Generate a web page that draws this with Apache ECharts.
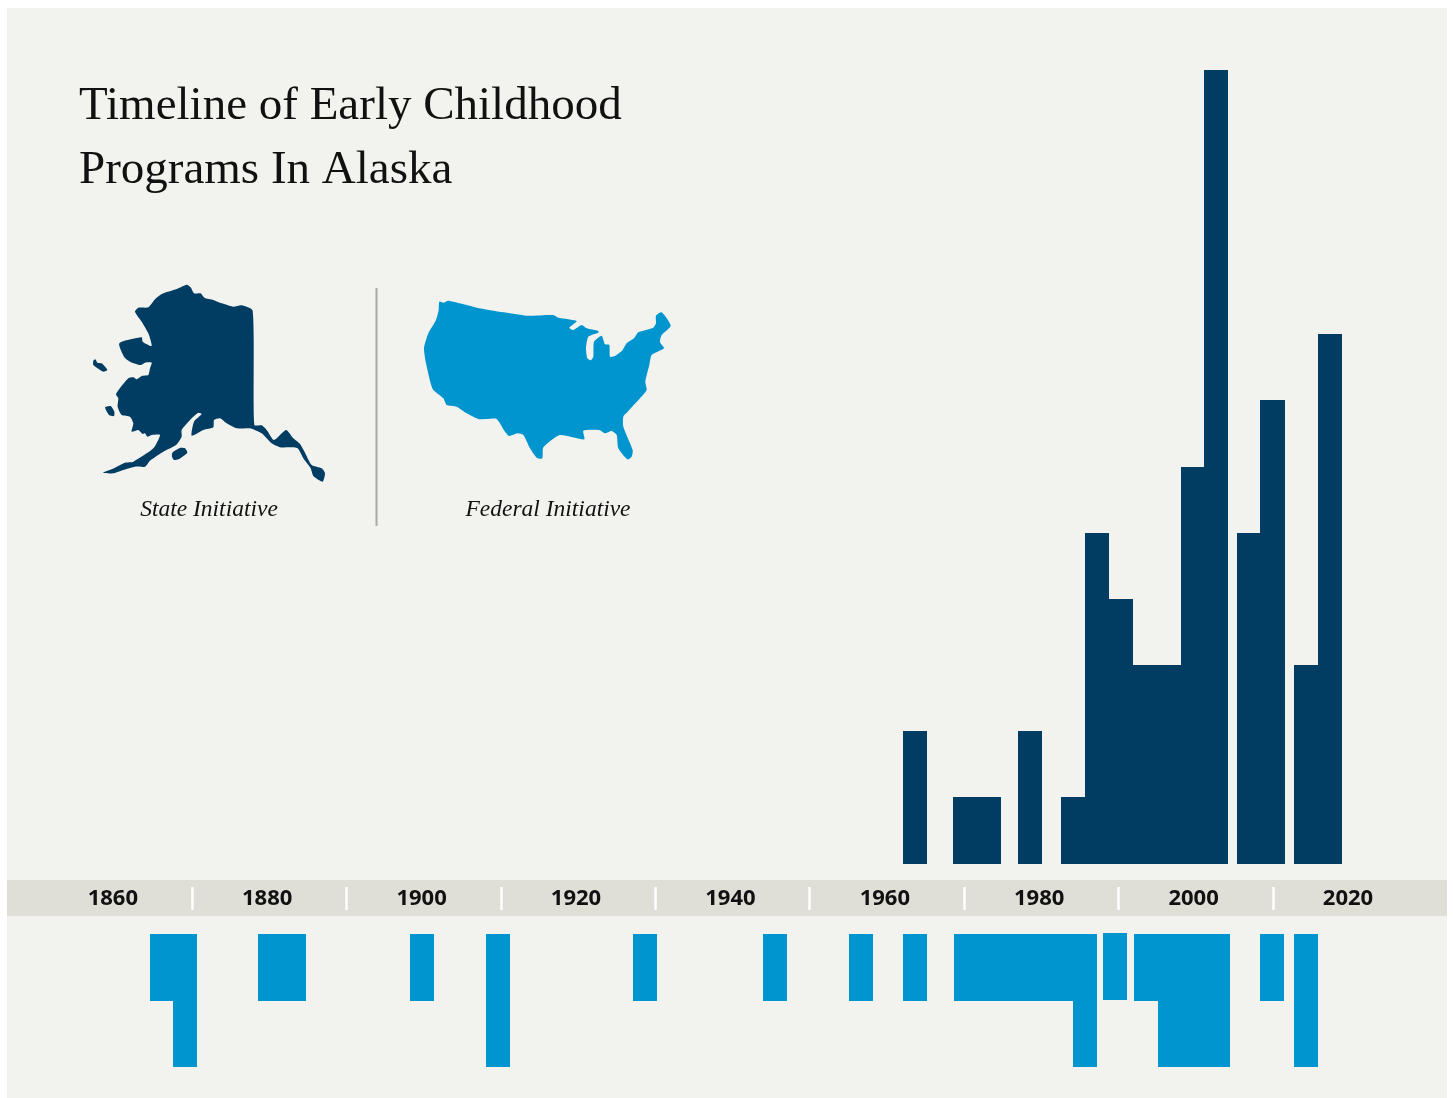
<!DOCTYPE html>
<html><head><meta charset="utf-8">
<style>html,body{margin:0;padding:0;background:#fff}#c{width:1453px;height:1098px}</style>
<script src="https://cdn.jsdelivr.net/npm/echarts@6/dist/echarts.min.js"></script>
</head><body><div id="c"></div>
<script>
const titleText = 'Timeline of Early Childhood\nPrograms In Alaska';
const stateLabel = 'State Initiative';
const federalLabel = 'Federal Initiative';
const tickYears = [1860, 1880, 1900, 1920, 1940, 1960, 1980, 2000, 2020];

// State initiatives: start year, end year, count
const stateStart = [1962.1, 1968.6, 1977.0, 1982.6, 1985.7, 1988.8, 1991.9, 1998.1, 2001.1, 2005.4, 2008.3, 2012.7, 2015.9];
const stateEnd   = [1965.2, 1974.8, 1980.1, 1985.7, 1988.8, 1991.9, 1998.1, 2001.1, 2004.2, 2008.3, 2011.6, 2015.9, 2019.0];
const stateCount = [2, 1, 2, 1, 5, 4, 3, 6, 12, 5, 7, 3, 8];

// Federal initiatives: start year, end year, top edge, bottom edge (drawn downward)
const fedStart = [1864.6, 1867.5, 1878.5, 1898.2, 1908.1, 1927.1, 1944.0, 1955.1, 1962.1, 1968.7, 1984.1, 1988.0, 1992.0, 1995.1, 2008.3, 2012.7];
const fedEnd   = [1867.5, 1870.6, 1884.8, 1901.3, 1911.2, 1930.2, 1947.1, 1958.2, 1965.2, 1984.1, 1987.2, 1991.1, 1995.1, 2004.5, 2011.5, 2015.9];
const fedTop   = [0, 0, 0, 0, 0, 0, 0, 0, 0, 0, 0, -0.015, 0, 0, 0, 0];
const fedCount = [1, 2, 1, 1, 2, 1, 1, 1, 1, 1, 2, 0.985, 1, 2, 1, 2];

const DARK = '#013c62', BLUE = '#0095ce', PANEL = '#f2f2ee', BAND = '#dfded7';

const alaskaPath = 'M350 44L362 52L372 70L392 70L403 83L430 90L455 100L490 110L515 106L548 122L553 465L575 466L590 480L612 510L648 480L670 505L690 522L705 548L725 585L755 595L765 610L758 635L730 618L722 595L700 565L683 535L660 532L630 532L605 520L575 490L540 475L500 475L470 460L450 445L432 450L430 472L400 480L365 497L372 455L395 432L385 428L365 445L335 480L335 500L318 525L280 545L240 572L225 590L195 590L160 600L130 610L100 608L125 598L165 578L190 575L250 535L270 495L245 495L232 500L225 490L218 492L205 480L185 485L190 460L180 440L155 435L143 410L145 385L138 372L175 325L190 322L200 328L215 318L235 315L240 295L245 278L225 278L212 285L180 275L163 262L148 220L215 202L218 215L245 228L235 190L215 155L195 125L205 113L235 112L255 88L275 72L320 57Z'
 + 'M70 272L76 268L82 278L95 280L112 300L100 305L85 296L70 285Z'
 + 'M105 412L122 408L133 425L132 438L118 436Z'
 + 'M307 548L330 534L345 535L352 548L325 568L312 570L306 560Z';
const usPath = 'M88 50L100 53L115 47L150 55L200 68L280 82L350 92L430 90L445 98L500 108L478 128L490 135L515 120L530 130L565 138L565 143L535 155L528 190L532 220L542 226L550 215L552 170L575 152L585 178L598 180L600 215L615 213L638 195L650 175L672 160L685 142L730 128L738 115L738 92L755 82L782 122L755 150L750 172L762 190L725 210L718 240L706 290L710 315L690 340L655 378L640 395L640 425L668 495L665 515L652 523L625 490L620 450L605 438L585 445L568 435L520 437L523 463L450 450L400 487L397 520L380 518L360 490L340 450L322 445L298 453L285 440L260 402L235 402L205 402L170 385L140 365L110 360L100 340L70 315L62 295L48 235L42 190L55 145L78 105L86 75Z';

function rectItem(color, roundY) {
  return function (params, api) {
    const a = api.coord([api.value(0), api.value(2)]);
    const b = api.coord([api.value(1), api.value(3)]);
    const x0 = Math.round(a[0]), x1 = Math.round(b[0]);
    const y0 = roundY(Math.min(a[1], b[1])), y1 = roundY(Math.max(a[1], b[1]));
    return { type: 'rect', shape: { x: x0, y: y0, width: x1 - x0, height: y1 - y0 }, style: { fill: color } };
  };
}
function silhouette(path, x, y, fill) {
  return path.split('M').filter(Boolean).map(sub => ({
    type: 'polygon', x, y, scaleX: 1 / 3, scaleY: 1 / 3, silent: true,
    shape: { smooth: 0.2, points: sub.replace('Z', '').split('L').map(p => p.trim().split(' ').map(Number)) },
    style: { fill }
  }));
}
const L = 114.8, W = 1235.2;
const chart = echarts.init(document.getElementById('c'), null, { renderer: 'canvas' });
chart.setOption({
  animation: false,
  backgroundColor: '#ffffff',
  title: { text: titleText, left: 74, top: 70,
    textStyle: { fontFamily: '"Liberation Serif"', fontSize: 47, fontWeight: 'normal', color: '#111', lineHeight: 64 } },
  grid: [
    { left: L, width: W, top: 70, height: 794 },
    { left: L, width: W, top: 934, height: 133 },
    { left: L, width: W, top: 887, height: 23 }
  ],
  xAxis: [
    { gridIndex: 0, type: 'value', min: 1860, max: 2020, interval: 20, show: false },
    { gridIndex: 1, type: 'value', min: 1860, max: 2020, interval: 20, show: false },
    { gridIndex: 2, type: 'value', min: 1860, max: 2020, interval: 20, position: 'bottom',
      axisLine: { show: false }, axisTick: { show: false, inside: true }, splitLine: { show: false },
      minorTick: { show: true, splitNumber: 2, length: 23, lineStyle: { color: '#ffffff', width: 2.5 } },
      axisLabel: { show: true, inside: true, margin: 0, showMinLabel: true, showMaxLabel: true, hideOverlap: false,
        padding: [0, 4, 0, 0], color: '#111', fontFamily: '"Open Sans"', fontWeight: 'bold', fontSize: 22,
        formatter: v => tickYears.includes(v) ? String(v) : '' } }
  ],
  yAxis: [
    { gridIndex: 0, type: 'value', min: 0, max: 12, show: false },
    { gridIndex: 1, type: 'value', min: 0, max: 2, inverse: true, show: false },
    { gridIndex: 2, type: 'value', min: 0, max: 1, show: false }
  ],
  series: [
    { type: 'custom', xAxisIndex: 0, yAxisIndex: 0, renderItem: rectItem(DARK, Math.floor),
      data: stateStart.map((v, i) => [v, stateEnd[i], 0, stateCount[i]]), encode: { x: [0, 1], y: [2, 3] }, silent: true },
    { type: 'custom', xAxisIndex: 1, yAxisIndex: 1, renderItem: rectItem(BLUE, Math.round),
      data: fedStart.map((v, i) => [v, fedEnd[i], fedTop[i], fedCount[i]]), encode: { x: [0, 1], y: [2, 3] }, silent: true }
  ],
  graphic: [
    { type: 'rect', z: -10, shape: { x: 7, y: 8, width: 1440, height: 1090 }, style: { fill: PANEL }, silent: true },
    { type: 'rect', z: -9, shape: { x: 7, y: 880, width: 1440, height: 36 }, style: { fill: BAND }, silent: true },
    ...silhouette(alaskaPath, 70, 270, DARK),
    ...silhouette(usPath, 410, 285, BLUE),
    { type: 'line', shape: { x1: 376.5, y1: 288, x2: 376.5, y2: 526 }, style: { stroke: '#a9a9a9', lineWidth: 2 }, silent: true },
    { type: 'text', x: 209, y: 510, style: { text: stateLabel, fill: '#111', font: 'italic 23.5px "Liberation Serif"', textAlign: 'center', textVerticalAlign: 'middle' }, silent: true },
    { type: 'text', x: 548, y: 510, style: { text: federalLabel, fill: '#111', font: 'italic 23.5px "Liberation Serif"', textAlign: 'center', textVerticalAlign: 'middle' }, silent: true }
  ]
});
</script></body></html>
